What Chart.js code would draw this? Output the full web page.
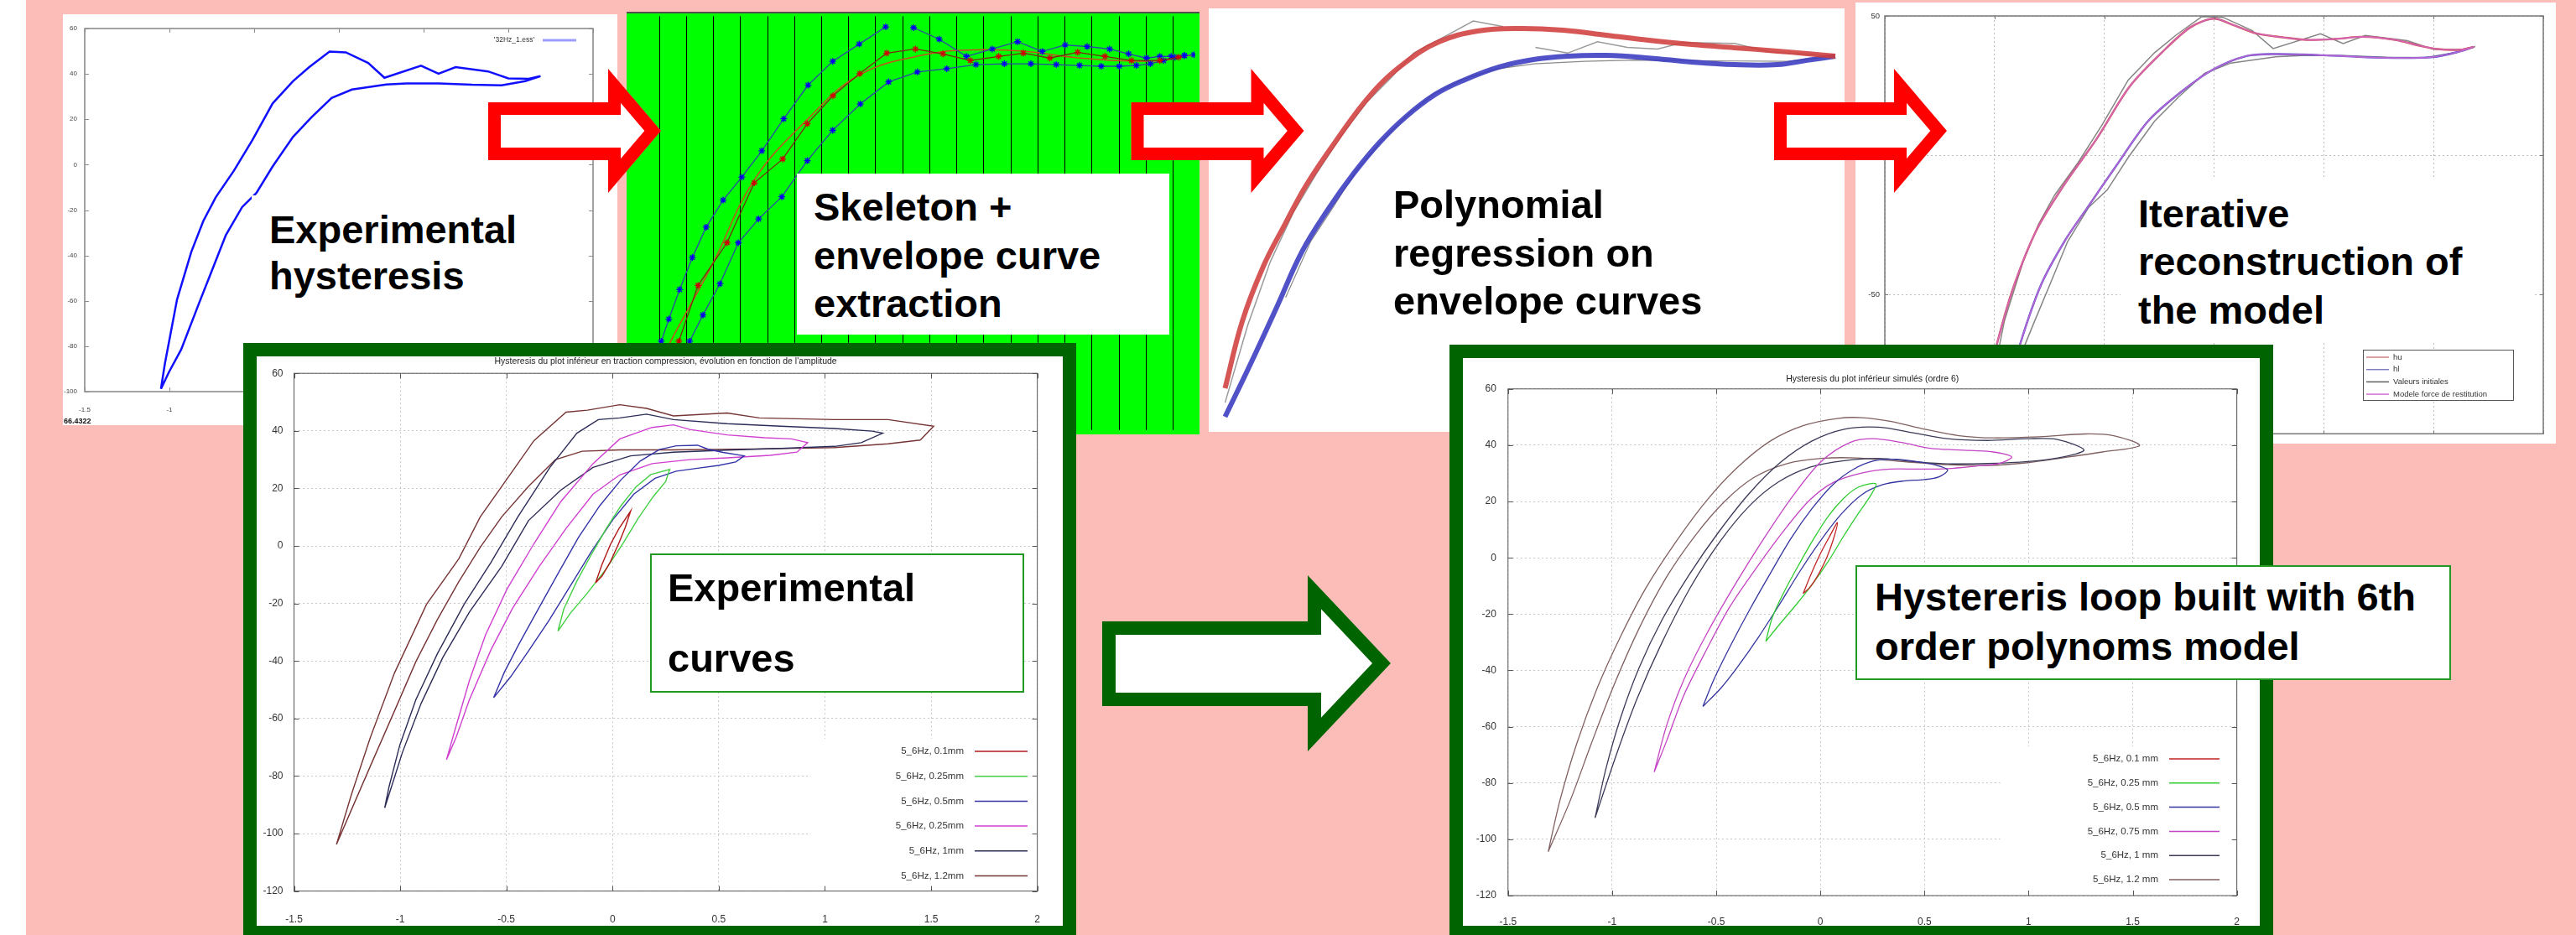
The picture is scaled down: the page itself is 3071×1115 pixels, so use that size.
<!DOCTYPE html>
<html>
<head>
<meta charset="utf-8">
<title>Hysteresis model identification</title>
<script src="https://cdn.jsdelivr.net/npm/chart.js@4.4.1/dist/chart.umd.min.js"></script>
<style>
  html, body { margin: 0; padding: 0; }
  body { width: 3071px; height: 1115px; overflow: hidden; position: relative; background: #fcbcb8; }
  .abs { position: absolute; }
  .panel { position: absolute; overflow: hidden; background: #fff; }
  .panel canvas { position: absolute; left: 0; top: 0; }
  .frame { position: absolute; background: #006400; }
  .txt { position: absolute; font-family: 'Liberation Sans', Arial, sans-serif; font-weight: bold; font-size: 47px; color: #000; white-space: nowrap; }
  .wbox { position: absolute; background: #fff; }
  .gbox { position: absolute; background: #fff; border: 2px solid #229922; box-sizing: border-box; }
</style>
</head>
<body>
<div class="abs" style="left:0;top:0;width:31px;height:1115px;background:#fff"></div>

<!-- measured loop -->
<div class="panel" style="left:75px;top:17px;width:661px;height:490px">
  <canvas id="cA" width="661" height="490"></canvas>
  <span class="abs" style="left:1px;top:480px;font:bold 9px 'Liberation Sans',Arial,sans-serif;color:#111">66.4322</span>
</div>
<div class="wbox" style="left:300px;top:233px;width:375px;height:177px"></div>
<div class="txt" style="left:321px;top:246px;line-height:55px">Experimental<br>hysteresis</div>

<!-- skeleton / envelope extraction -->
<div class="panel" style="left:747px;top:14px;width:683px;height:504px;background:#00ff00">
  <canvas id="cB" width="683" height="504"></canvas>
</div>
<div class="abs" style="left:747px;top:14px;width:683px;height:2px;background:#505050"></div>
<div class="wbox" style="left:950px;top:207px;width:444px;height:192px"></div>
<div class="txt" style="left:970px;top:218px;line-height:57.5px">Skeleton +<br>envelope curve<br>extraction</div>

<!-- polynomial fit of envelopes -->
<div class="panel" style="left:1441px;top:10px;width:758px;height:505px">
  <canvas id="cC" width="758" height="505"></canvas>
</div>
<div class="txt" style="left:1661px;top:215px;line-height:57.5px">Polynomial<br>regression on<br>envelope curves</div>

<!-- iterative reconstruction -->
<div class="panel" style="left:2212px;top:3px;width:835px;height:526px">
  <canvas id="cD" width="835" height="526"></canvas>
</div>
<div class="wbox" style="left:2528px;top:212px;width:492px;height:197px"></div>
<div class="txt" style="left:2549px;top:226px;line-height:57.4px">Iterative<br>reconstruction of<br>the model</div>

<svg id="arrows" class="abs" style="left:0;top:0" width="3071" height="1115"></svg>

<!-- experimental loops -->
<div class="frame" style="left:290px;top:409px;width:993px;height:711px"></div>
<div class="panel" style="left:306px;top:425px;width:961px;height:679px">
  <canvas id="cE" width="961" height="679"></canvas>
</div>
<div class="gbox" style="left:775px;top:660px;width:446px;height:166px"></div>
<div class="txt" style="left:796px;top:659px;line-height:84px">Experimental<br>curves</div>

<!-- simulated loops -->
<div class="frame" style="left:1728px;top:411px;width:982px;height:709px"></div>
<div class="panel" style="left:1744px;top:427px;width:950px;height:677px">
  <canvas id="cF" width="950" height="677"></canvas>
</div>
<div class="gbox" style="left:2212px;top:674px;width:710px;height:137px"></div>
<div class="txt" style="left:2235px;top:682px;line-height:59.3px">Hystereris loop built with 6th<br>order polynoms model</div>

<script>
// ---------- measured loop, 32 Hz (displacement mm, force) ----------
const hystUp = [[-1.05,-98.8],[-1.027,-87.7],[-0.955,-59.4],[-0.871,-38.4],[-0.8,-24.8],[-0.727,-14.4],[-0.619,-2.6],[-0.51,10.9],[-0.391,27],[-0.271,36.8],[-0.175,43],[-0.055,49.8],[0.041,49.5],[0.173,44.8],[0.269,38.3],[0.485,43.6],[0.588,40.1],[0.689,43],[0.881,41.1],[1.0,38],[1.12,37.8],[1.19,39]];
const hystDown = [[1.1,36.8],[0.96,35],[0.785,35.2],[0.59,35.8],[0.4,35.8],[0.28,35.3],[0.077,33.1],[-0.043,29.4],[-0.163,20.8],[-0.271,12.2],[-0.391,-0.8],[-0.487,-12.5],[-0.571,-18.7],[-0.667,-31],[-0.751,-47],[-0.823,-60.6],[-0.931,-81.5],[-1.003,-91.4],[-1.05,-98.8]];
const ticksAX = [-1.5,-1,-0.5,0,0.5,1,1.5];
const ticksAY = [-100,-80,-60,-40,-20,0,20,40,60];

// ---------- skeleton and envelopes ----------
const envUpperA = [[-1.107,-23.8],[-1.093,-19.2],[-1.065,-13.8],[-1.025,-6.6],[-0.978,1.2],[-0.927,8.6],[-0.864,15.2],[-0.795,20.8],[-0.721,27.2],[-0.64,35],[-0.55,43.2],[-0.459,49],[-0.361,53.2],[-0.263,57.4]];
const envUpperB = [[-0.16,57.2],[-0.065,54.4],[0.036,50.2],[0.131,52],[0.225,53.8],[0.316,51.4],[0.401,53],[0.482,52.6],[0.565,52],[0.636,50.8],[0.702,49.8],[0.751,50.2],[0.793,50.2],[0.842,50.4],[0.877,50.6]];
const envLower = [[-1.006,-23.8],[-0.988,-19.2],[-0.939,-12.8],[-0.876,-5.2],[-0.808,4.8],[-0.733,10.6],[-0.647,16],[-0.553,24.8],[-0.459,32.2],[-0.357,38.6],[-0.252,44],[-0.146,46.4],[-0.037,47.2],[0.071,48.2],[0.176,48.4],[0.274,48.4],[0.368,48.2],[0.454,48],[0.534,47.8],[0.601,47.8],[0.664,48],[0.716,48.4],[0.765,49.2],[0.807,50],[0.842,50.4]];
const skeleton = [[-1.058,-23.8],[-1.028,-19.2],[-0.957,-5.6],[-0.85,4.8],[-0.749,19.4],[-0.644,25.2],[-0.553,33.8],[-0.458,40.6],[-0.359,46],[-0.259,51],[-0.153,52],[-0.051,50.8],[0.05,49.2],[0.155,50.2],[0.246,51],[0.344,49.8],[0.447,51.2],[0.548,50.2],[0.646,49.2],[0.751,49.2],[0.821,50]];
const skeletonFit = [[-1.089,-23.8],[-1.058,-19.2],[-0.904,-0.5],[-0.749,20.1],[-0.553,34.8],[-0.357,45.8],[-0.104,50.8],[0.064,51.8],[0.246,51.5],[0.457,49.8],[0.737,49.1],[0.877,50.6]];
const sliceX = [-1.1,-1.0,-0.9,-0.8,-0.7,-0.6,-0.5,-0.4,-0.3,-0.2,-0.1,0,0.1,0.2,0.3,0.4,0.5,0.6,0.7,0.8];

// ---------- polynomial regression of envelopes ----------
const polyUpper = [[-1.219,-90.4],[-1.151,-64.3],[-1.067,-42.7],[-0.982,-26.4],[-0.897,-11],[-0.779,6.3],[-0.644,24],[-0.509,36.4],[-0.374,44.6],[-0.222,48.8],[-0.053,49.8],[0.116,49.1],[0.285,47.2],[0.454,45.2],[0.623,43.6],[0.792,42.3],[0.961,41],[1.079,40],[1.19,39]];
const polyLower = [[-1.219,-101.5],[-1.117,-80.6],[-1.016,-59],[-0.915,-37.1],[-0.813,-20.8],[-0.712,-6.8],[-0.61,5.3],[-0.509,15.1],[-0.391,24],[-0.273,29.8],[-0.137,34.8],[-0.002,37.7],[0.133,39],[0.285,39.3],[0.454,38.3],[0.623,36.7],[0.792,35.7],[0.961,35.7],[1.079,37.4],[1.19,39]];
const rawUpper1 = [[-1.219,-96],[-1.13,-66],[-1.04,-41],[-0.95,-22],[-0.86,-7],[-0.76,8],[-0.66,21],[-0.56,31],[-0.475,40.2],[-0.374,45.5],[-0.239,52.7],[-0.121,50.5]];
const rawUpper2 = [[0.006,42.4],[0.133,40.2],[0.251,44.6],[0.369,42.4],[0.488,41.8],[0.589,44.3],[0.792,44],[0.927,40.7],[1.19,39]];
const rawLower = [[-0.98,-55],[-0.88,-33],[-0.8,-21],[-0.7,-5.5],[-0.61,5],[-0.5,16],[-0.4,24],[-0.28,30],[-0.15,34],[0,36],[0.2,37],[0.4,37.5],[0.7,37.2],[1.0,37],[1.19,39]];

// ---------- iterative reconstruction ----------
const modelHu = [[-1.08,-100],[-1.04,-85],[-0.989,-67.7],[-0.915,-47.6],[-0.809,-26.9],[-0.682,-10.5],[-0.533,6.1],[-0.384,24.7],[-0.235,37.1],[-0.108,45.9],[-0.002,49],[0.083,46.9],[0.189,43.8],[0.316,42.3],[0.423,41.4],[0.549,41.7],[0.678,42.5],[0.826,41.4],[0.932,39.4],[1.017,38.1],[1.123,37.9],[1.183,38.9]];
const modelHl = [[1.183,38.9],[1.123,37.3],[0.996,35.2],[0.763,35],[0.497,35.9],[0.274,36.3],[0.147,35.6],[-0.002,30.9],[-0.151,22.7],[-0.3,12.3],[-0.449,-4.2],[-0.575,-18.6],[-0.682,-31],[-0.788,-46.5],[-0.883,-67.7],[-0.94,-85],[-0.98,-100]];
const ticksDX = [-1.5,-1,-0.5,0,0.5,1,1.5];
const ticksDY = [-100,-50,0,50];

// ---------- loops at 5.6 Hz, measured ----------
const labelsExp = ['5_6Hz, 0.1mm','5_6Hz, 0.25mm','5_6Hz, 0.5mm','5_6Hz, 0.25mm','5_6Hz, 1mm','5_6Hz, 1.2mm'];
const exp01Up = [[-0.08,-12.8],[-0.05,-6.5],[-0.01,0.5],[0.03,6],[0.085,12.1]];
const exp01Down = [[0.06,6.5],[0.03,1],[-0.01,-5.5],[-0.05,-10.5],[-0.08,-12.8]];
const exp025Up = [[-0.257,-29.6],[-0.23,-22],[-0.17,-12.5],[-0.1,-3],[-0.03,6],[0.04,14],[0.11,20.5],[0.18,24.8],[0.269,26.6]];
const exp025Down = [[0.25,22.4],[0.19,17],[0.12,9.5],[0.05,1],[-0.03,-8],[-0.12,-16.5],[-0.2,-23.5],[-0.257,-29.6]];
const exp05Up = [[-0.56,-52.8],[-0.51,-44],[-0.44,-34],[-0.35,-22],[-0.26,-10],[-0.16,3],[-0.06,14],[0.04,23],[0.13,29.5],[0.22,33.5],[0.3,34.8],[0.4,35],[0.45,33.6],[0.52,32.5],[0.62,31.3]];
const exp05Down = [[0.58,29.2],[0.5,28],[0.4,27],[0.3,26],[0.2,23.5],[0.1,18],[0,9],[-0.1,-2],[-0.2,-14],[-0.3,-26],[-0.4,-37],[-0.48,-45.5],[-0.56,-52.8]];
const exp075Up = [[-0.782,-74.3],[-0.737,-62.7],[-0.674,-46.8],[-0.598,-30.9],[-0.497,-15],[-0.37,0.8],[-0.244,15.4],[-0.092,28.6],[0.034,37.2],[0.186,41.2],[0.287,42.1],[0.363,40.5],[0.539,38.6],[0.716,37.6],[0.842,37.2],[0.919,35.9]];
const exp075Down = [[0.868,32.6],[0.742,31.5],[0.539,30.6],[0.363,30],[0.186,28.6],[0.034,24.7],[-0.092,18],[-0.219,6.1],[-0.345,-7.1],[-0.471,-21.7],[-0.573,-36.2],[-0.674,-53.4],[-0.737,-66.6],[-0.782,-74.3]];
const exp1Up = [[-1.073,-91.1],[-1.053,-83.9],[-1.002,-69.3],[-0.926,-53.4],[-0.825,-37.5],[-0.699,-20.3],[-0.573,-5.8],[-0.446,10.1],[-0.295,27.3],[-0.168,39.2],[-0.067,43.9],[0.034,44.5],[0.16,45.8],[0.287,43.9],[0.539,42.5],[0.792,41.6],[1.045,40.8],[1.222,39.9],[1.272,39.2]];
const exp1Down = [[1.171,35.9],[1.045,34.6],[0.792,33.9],[0.539,33.3],[0.287,32.6],[0.085,31.3],[-0.092,27.3],[-0.244,19.4],[-0.396,8.8],[-0.522,-7.1],[-0.674,-23],[-0.8,-38.9],[-0.901,-54.7],[-0.99,-71.9],[-1.053,-86.5],[-1.073,-91.1]];
const exp12Up = [[-1.3,-103.8],[-1.23,-86.5],[-1.141,-66.7],[-1.027,-44.2],[-0.876,-20.3],[-0.724,-4.5],[-0.623,10.1],[-0.497,23.3],[-0.37,36.6],[-0.219,46.5],[-0.118,47.2],[0.034,49.1],[0.16,47.8],[0.287,45.2],[0.539,46.2],[0.691,44.5],[1.045,43.9],[1.297,43.9],[1.512,41.6]];
const exp12Down = [[1.449,36.8],[1.297,35.5],[1.045,34.2],[0.666,33.7],[0.287,33.4],[0.034,33.4],[-0.143,32.9],[-0.269,30],[-0.396,20.7],[-0.522,10.1],[-0.623,-0.5],[-0.724,-12.4],[-0.825,-25.6],[-0.926,-40.2],[-1.027,-57.4],[-1.129,-74.6],[-1.23,-91.8],[-1.3,-103.8]];

// ---------- loops at 5.6 Hz, 6th order model ----------
const labelsSim = ['5_6Hz, 0.1 mm','5_6Hz, 0.25 mm','5_6Hz, 0.5 mm','5_6Hz, 0.75 mm','5_6Hz, 1 mm','5_6Hz, 1.2 mm'];
const sim01Up = [[-0.083,-12.7],[-0.04,-5],[0,1.5],[0.04,7],[0.082,12.5]];
const sim01Down = [[0.06,6],[0.03,0],[-0.01,-6],[-0.05,-10.5],[-0.083,-12.7]];
const sim025Up = [[-0.262,-29.7],[-0.23,-21],[-0.17,-11.5],[-0.1,-2],[-0.03,7],[0.04,15],[0.11,21],[0.18,25],[0.267,26.3]];
const sim025Down = [[0.24,22],[0.18,15.5],[0.11,7.5],[0.04,-1],[-0.04,-9.5],[-0.12,-17],[-0.2,-24],[-0.262,-29.7]];
const sim05Up = [[-0.564,-52.8],[-0.51,-43],[-0.43,-31],[-0.34,-18.5],[-0.24,-5.5],[-0.14,7],[-0.04,17.5],[0.06,26],[0.16,31.5],[0.26,34.5],[0.36,35],[0.46,34.2],[0.55,33],[0.611,31.2]];
const sim05Down = [[0.57,28.8],[0.5,27.8],[0.4,27.3],[0.3,26],[0.2,22.5],[0.1,15.5],[0,6],[-0.1,-5],[-0.2,-17],[-0.3,-28.5],[-0.4,-39],[-0.48,-46.5],[-0.564,-52.8]];
const sim075Up = [[-0.798,-76.1],[-0.738,-59.5],[-0.655,-43.2],[-0.545,-26.9],[-0.408,-9.3],[-0.27,7],[-0.132,22],[0.003,34.2],[0.143,41],[0.253,42.3],[0.39,41],[0.528,38.9],[0.666,38.3],[0.831,37.6],[0.919,35.8]];
const sim075Down = [[0.858,33.5],[0.748,32.6],[0.611,31.7],[0.473,31.5],[0.335,31.5],[0.198,30.1],[0.06,26.7],[-0.05,20.6],[-0.16,11.1],[-0.297,-2.5],[-0.435,-17.4],[-0.545,-32.4],[-0.655,-48.7],[-0.738,-65],[-0.798,-76.1]];
const sim1Up = [[-1.082,-92.4],[-1.03,-75],[-0.96,-57],[-0.87,-39],[-0.76,-22],[-0.63,-6],[-0.49,9],[-0.34,23],[-0.19,34],[-0.04,41.5],[0.115,45.7],[0.28,46.4],[0.446,44.4],[0.611,42.3],[0.803,41.7],[0.996,42.3],[1.134,42.1],[1.266,38.3]];
const sim1Down = [[1.161,35.8],[0.996,34.2],[0.803,33.5],[0.611,33.4],[0.446,34.2],[0.28,35.3],[0.115,34.5],[-0.05,32.2],[-0.2,27],[-0.34,18.5],[-0.48,6],[-0.62,-10],[-0.76,-30],[-0.88,-50],[-0.98,-70],[-1.082,-92.4]];
const sim12Up = [[-1.307,-104.4],[-1.25,-86],[-1.17,-66],[-1.07,-46],[-0.96,-28],[-0.84,-11],[-0.7,5],[-0.55,20],[-0.4,32],[-0.24,41.5],[-0.08,47],[0.08,49.5],[0.2,49.8],[0.335,48.5],[0.5,45.7],[0.666,43.4],[0.831,42.6],[1.051,43],[1.271,44],[1.409,43.4],[1.533,39.9]];
const sim12Down = [[1.354,37.6],[1.161,35.5],[0.996,33.8],[0.803,32.8],[0.611,33.1],[0.39,34.2],[0.17,35.5],[0.005,35.3],[-0.16,33.5],[-0.32,28.5],[-0.46,20],[-0.6,8],[-0.74,-7],[-0.87,-25],[-0.99,-45],[-1.1,-66],[-1.2,-86],[-1.307,-104.4]];

const ticksLoopX = [-1.5,-1,-0.5,0,0.5,1,1.5,2];
const ticksLoopY = [-120,-100,-80,-60,-40,-20,0,20,40,60];

// ---------- helpers ----------
const FONT = "'Liberation Sans', Arial, sans-serif";
Chart.defaults.font.family = FONT;
Chart.defaults.animation = false;

const xy = a => a.map(p => ({ x: p[0], y: p[1] }));
const loop = (up, down) => xy(up.concat(down));

function series(label, data, color, width, more) {
  return Object.assign({ label, data, borderColor: color, backgroundColor: color, borderWidth: width,
    showLine: true, pointRadius: 0, fill: false, tension: 0 }, more || {});
}

function axis(min, max, tickVals, o) {
  return {
    type: 'linear', min, max,
    display: o.display !== false,
    afterBuildTicks: s => { s.ticks = tickVals.map(v => ({ value: v })); },
    afterFit: s => { if (o.size !== undefined) { if (s.isHorizontal()) s.height = o.size; else s.width = o.size; } },
    ticks: { display: o.labels !== false, autoSkip: false, maxRotation: 0, padding: o.pad || 0,
      color: o.tickColor || '#333', font: { family: FONT, size: o.fontSize || 12 }, callback: v => String(v) },
    grid: { display: o.grid !== false, color: o.gridColor || '#ccc', lineWidth: 1, drawTicks: false },
    border: { display: false, dash: o.dash || [] }
  };
}

// frame, inward ticks, title and legend drawn on the chart canvas
function decorate(cfg) {
  return {
    id: 'decorate',
    beforeDatasetsDraw(chart) {
      const L = cfg.legend;
      if (L && L.bg) {
        const a = chart.chartArea, c = chart.ctx;
        c.save(); c.fillStyle = '#fff';
        c.fillRect(L.bg[0], L.bg[1], a.right - L.bg[0], a.bottom - L.bg[1]);
        c.restore();
      }
    },
    afterDatasetsDraw(chart) {
      const c = chart.ctx, a = chart.chartArea, sx = chart.scales.x, sy = chart.scales.y;
      c.save();
      if (cfg.frame) {
        const f = cfg.frame;
        c.strokeStyle = f.color; c.lineWidth = f.width;
        c.strokeRect(a.left, a.top, a.right - a.left, a.bottom - a.top);
        if (f.tick) {
          c.lineWidth = 1; c.beginPath();
          sx.ticks.forEach(t => { const p = Math.round(sx.getPixelForValue(t.value)) + 0.5;
            c.moveTo(p, a.bottom); c.lineTo(p, a.bottom - f.tick); c.moveTo(p, a.top); c.lineTo(p, a.top + f.tick); });
          sy.ticks.forEach(t => { const p = Math.round(sy.getPixelForValue(t.value)) + 0.5;
            c.moveTo(a.left, p); c.lineTo(a.left + f.tick, p); c.moveTo(a.right, p); c.lineTo(a.right - f.tick, p); });
          c.stroke();
        }
      }
      if (cfg.title) {
        c.fillStyle = '#222'; c.font = cfg.title.font; c.textAlign = 'center'; c.textBaseline = 'middle';
        c.fillText(cfg.title.text, (a.left + a.right) / 2, cfg.title.y);
      }
      if (cfg.legend) {
        const L = cfg.legend;
        if (L.box) {
          c.fillStyle = '#fff'; c.fillRect(L.box[0], L.box[1], L.box[2] - L.box[0], L.box[3] - L.box[1]);
          c.strokeStyle = '#555'; c.lineWidth = 1;
          c.strokeRect(L.box[0] + 0.5, L.box[1] + 0.5, L.box[2] - L.box[0], L.box[3] - L.box[1]);
        }
        c.font = L.font; c.textBaseline = 'middle';
        chart.data.datasets.filter(d => d.label).forEach((d, i) => {
          const yy = L.y0 + i * L.dy;
          c.strokeStyle = d.legendColor || d.borderColor; c.lineWidth = L.lw;
          c.beginPath(); c.moveTo(L.l0, yy); c.lineTo(L.l1, yy); c.stroke();
          c.fillStyle = L.color || '#333'; c.textAlign = L.align; c.fillText(d.label, L.tx, yy);
        });
      }
      c.restore();
    }
  };
}

function build(id, datasets, scales, padding, deco) {
  return new Chart(document.getElementById(id), {
    type: 'scatter',
    data: { datasets },
    options: {
      responsive: false, maintainAspectRatio: false, animation: false, events: [],
      layout: { padding },
      plugins: { legend: { display: false }, tooltip: { enabled: false } },
      scales
    },
    plugins: [decorate(deco)]
  });
}

// ---------- measured loop ----------
build('cA',
  [series("'32Hz_1.ess'", loop(hystUp, hystDown), '#1010ff', 2.5, { legendColor: '#9d9dff' })],
  { x: axis(-1.5, 1.5, ticksAX, { size: 40, pad: 17, fontSize: 8, grid: false, tickColor: '#444' }),
    y: axis(-100, 60, ticksAY, { size: 26, pad: 9, fontSize: 8, grid: false, tickColor: '#444' }) },
  { left: 0, right: 29, top: 17, bottom: 0 },
  { frame: { color: '#8c8c8c', width: 1.6, tick: 5 },
    legend: { font: '8.5px ' + FONT, tx: 562, l0: 572, l1: 612, y0: 31, dy: 14, lw: 3, align: 'right' } });

// ---------- skeleton and envelopes ----------
const star = (c) => ({ pointRadius: 4, pointStyle: 'star', pointBorderColor: c, pointBackgroundColor: c, pointBorderWidth: 1.3 });
build('cB',
  [series('', xy(skeleton), '#7a2a10', 1.3, star('#d00000')),
   series('', xy(envUpperA), '#2a4aa8', 1.3, star('#0000ee')),
   series('', xy(envUpperB), '#2a4aa8', 1.3, star('#0000ee')),
   series('', xy(envLower), '#2a4aa8', 1.3, star('#0000ee')),
   series('', xy(skeletonFit), '#c8501e', 1.5, { tension: 0.4 })],
  { x: axis(-1.2048, 0.8813, sliceX, { size: 0, labels: false, gridColor: '#000' }),
    y: axis(-40.8, 60, [], { display: false }) },
  0, {});

// ---------- polynomial regression ----------
build('cC',
  [series('', xy(polyUpper), 'rgba(208,62,62,0.88)', 6, { tension: 0.4 }),
   series('', xy(polyLower), 'rgba(58,58,192,0.88)', 6, { tension: 0.4 }),
   series('', xy(rawUpper1), '#9a9a9a', 1.5),
   series('', xy(rawUpper2), '#9a9a9a', 1.5),
   series('', xy(rawLower), '#8a8a8a', 1.2)],
  { x: axis(-1.2835, 1.2264, [], { display: false }),
    y: axis(-107.4, 57.63, [], { display: false }) },
  0, {});

// ---------- iterative reconstruction ----------
build('cD',
  [series('hu', xy(modelHu), '#cc4848', 2.4, { tension: 0.3, order: 1, legendColor: '#d08080' }),
   series('hl', xy(modelHl), '#4848c8', 2.4, { tension: 0.3, order: 1, legendColor: '#8080c0' }),
   series('Valeurs initiales', loop(hystUp, hystDown), '#858585', 1.5, { order: 2, legendColor: '#606060' }),
   series('Modele force de restitution', xy(modelHu.concat(modelHl.slice(1))), 'rgba(215,110,215,0.8)', 1.6, { tension: 0.3, order: 0, legendColor: '#d070d0' })],
  { x: axis(-1.5, 1.5, ticksDX, { size: 9, labels: false, gridColor: '#bdbdbd', dash: [2, 3] }),
    y: axis(-100, 50, ticksDY, { size: 35, pad: 6, fontSize: 9.5, gridColor: '#bdbdbd', dash: [2, 3] }) },
  { left: 0, right: 15, top: 16, bottom: 0 },
  { frame: { color: '#777', width: 1.5, tick: 4 },
    legend: { box: [605, 414, 784, 474], font: '9.5px ' + FONT, tx: 641, l0: 609, l1: 636, y0: 423, dy: 14.7, lw: 1.5, align: 'left' } });

// ---------- loops, measured ----------
const colExp = ['#b01818', '#44d044', '#3434a8', '#d040d0', '#2c2c58', '#763434'];
const expLoops = [[exp01Up, exp01Down], [exp025Up, exp025Down], [exp05Up, exp05Down], [exp075Up, exp075Down], [exp1Up, exp1Down], [exp12Up, exp12Down]];
build('cE',
  expLoops.map((l, i) => series(labelsExp[i], loop(l[0], l[1]), colExp[i], 1.4)),
  { x: axis(-1.5, 2, ticksLoopX, { size: 41.4, pad: 27, fontSize: 12, gridColor: '#c8c8c8', dash: [2, 3] }),
    y: axis(-120, 60, ticksLoopY, { size: 44.5, pad: 13, fontSize: 12, gridColor: '#c8c8c8', dash: [2, 3] }) },
  { left: 0, right: 15.4, top: 17.4, bottom: 0 },
  { frame: { color: '#555', width: 1, tick: 6 },
    title: { text: "Hysteresis du plot inférieur en traction compression, évolution en fonction de l'amplitude", font: '10.5px ' + FONT, y: 6 },
    legend: { bg: [660.6, 456], font: '11.5px ' + FONT, tx: 843, l0: 856, l1: 919, y0: 471, dy: 29.7, lw: 1.5, align: 'right' } });

// ---------- loops, simulated ----------
const colSim = ['#c02424', '#30cc30', '#3434a0', '#c444c4', '#3a3a58', '#806060'];
const simLoops = [[sim01Up, sim01Down], [sim025Up, sim025Down], [sim05Up, sim05Down], [sim075Up, sim075Down], [sim1Up, sim1Down], [sim12Up, sim12Down]];
build('cF',
  simLoops.map((l, i) => series(labelsSim[i], loop(l[0], l[1]), colSim[i], 1.3, { tension: 0.3 })),
  { x: axis(-1.5, 2, ticksLoopX, { size: 36, pad: 24, fontSize: 12, gridColor: '#c8c8c8', dash: [2, 3] }),
    y: axis(-120, 60, ticksLoopY, { size: 53.8, pad: 14, fontSize: 12, gridColor: '#c8c8c8', dash: [2, 3] }) },
  { left: 0, right: 20.1, top: 36.8, bottom: 0 },
  { frame: { color: '#555', width: 1, tick: 6 },
    title: { text: 'Hysteresis du plot inférieur simulés (ordre 6)', font: '10.5px ' + FONT, y: 25.5 },
    legend: { bg: [640.6, 463], font: '11.5px ' + FONT, tx: 829, l0: 842, l1: 902, y0: 478, dy: 28.8, lw: 1.5, align: 'right' } });

// ---------- hollow block arrows between the steps ----------
(function () {
  const svg = document.getElementById('arrows');
  const NS = 'http://www.w3.org/2000/svg';
  const defs = document.createElementNS(NS, 'defs');
  svg.appendChild(defs);
  function arrow(id, x0, x1, x2, yTop, yBot, hTop, hBot, color, stroke) {
    const tipY = (hTop + hBot) / 2;
    const pts = [[x0, yTop], [x1, yTop], [x1, hTop], [x2, tipY], [x1, hBot], [x1, yBot], [x0, yBot]].map(p => p.join(',')).join(' ');
    const clip = document.createElementNS(NS, 'clipPath');
    clip.setAttribute('id', id);
    const cp = document.createElementNS(NS, 'polygon');
    cp.setAttribute('points', pts);
    clip.appendChild(cp); defs.appendChild(clip);
    const poly = document.createElementNS(NS, 'polygon');
    poly.setAttribute('points', pts);
    poly.setAttribute('fill', '#fff');
    poly.setAttribute('stroke', color);
    poly.setAttribute('stroke-width', stroke * 2);
    poly.setAttribute('stroke-linejoin', 'miter');
    poly.setAttribute('stroke-miterlimit', '10');
    poly.setAttribute('clip-path', 'url(#' + id + ')');
    svg.appendChild(poly);
  }
  [0, 766.5, 1533].forEach((dx, i) => arrow('ar' + i, 582 + dx, 725 + dx, 788 + dx, 122, 191, 82, 230, '#ff0000', 15));
  arrow('ag', 1314, 1559, 1658, 741, 842, 686, 896, '#006400', 16);
})();
</script>
</body>
</html>
